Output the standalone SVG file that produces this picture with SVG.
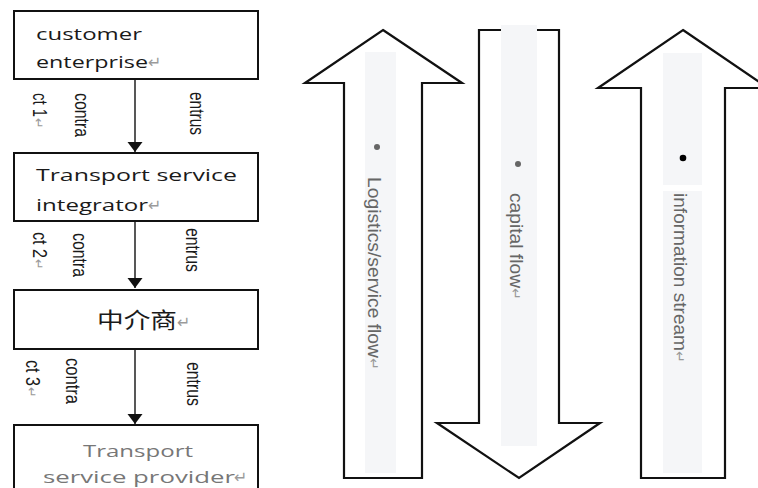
<svg xmlns="http://www.w3.org/2000/svg" width="758" height="488" viewBox="0 0 758 488">
<defs>
<style>
.box{fill:#fff;stroke:#111;stroke-width:2}
.bt{font-family:"Open Sans","Noto Sans",sans-serif;font-size:17px;fill:#1a1a1a}
.cjk{font-family:"Noto Sans CJK SC","Noto Sans CJK KR",sans-serif;font-size:22px;fill:#1a1a1a}
.lbl{font-family:"Liberation Sans","Arial",sans-serif;font-size:20px;fill:#1a1a1a}
.conn{stroke:#111;stroke-width:1.4;fill:none}
.big{fill:#fff;stroke:#111;stroke-width:2.2;stroke-linejoin:miter}
.strip{fill:#f5f6f8}
.at{font-family:"Liberation Sans","Arial",sans-serif;fill:#666}
.ret{font-family:"DejaVu Sans",sans-serif;fill:#9a9a9a}
</style>
<marker id="ah" markerUnits="userSpaceOnUse" markerWidth="16" markerHeight="16" refX="10" refY="7.5" orient="auto">
<path d="M0,0 L10,7.5 L0,15 Z" fill="#111"/>
</marker>
</defs>
<g id="connectors">
<line class="conn" x1="135" y1="79" x2="135" y2="152" marker-end="url(#ah)"/>
<line class="conn" x1="135" y1="221" x2="135" y2="288" marker-end="url(#ah)"/>
<line class="conn" x1="135" y1="349" x2="135" y2="424" marker-end="url(#ah)"/>
</g>
<g id="node-customer">
<rect class="box" x="14" y="11" width="244" height="68"/>
<text class="bt" x="36" y="40" textLength="106" lengthAdjust="spacingAndGlyphs">customer</text>
<text class="bt" x="36" y="68" textLength="112" lengthAdjust="spacingAndGlyphs">enterprise</text>
<text class="ret" x="148" y="68" font-size="16">↵</text>
</g>
<g id="node-integrator">
<rect class="box" x="14" y="153" width="244" height="68"/>
<text class="bt" x="36" y="181" textLength="201" lengthAdjust="spacingAndGlyphs">Transport  service</text>
<text class="bt" x="36" y="211" textLength="112" lengthAdjust="spacingAndGlyphs">integrator</text>
<text class="ret" x="148" y="211" font-size="16">↵</text>
</g>
<g id="node-broker">
<rect class="box" x="14" y="290" width="244" height="59"/>
<text class="cjk" x="97" y="328" textLength="80" lengthAdjust="spacingAndGlyphs">中介商</text>
<text class="ret" x="177" y="328" font-size="16">↵</text>
</g>
<g id="node-provider">
<rect class="box" x="14" y="425" width="244" height="70"/>
<text class="bt" x="83" y="457" textLength="110" lengthAdjust="spacingAndGlyphs" style="fill:#777">Transport</text>
<text class="bt" x="43" y="483" textLength="192" lengthAdjust="spacingAndGlyphs" style="fill:#777">service provider</text>
<text class="ret" x="234" y="483" font-size="16">↵</text>
</g>
<g id="labels">
<text class="lbl" transform="translate(33,93) rotate(90)" textLength="24" lengthAdjust="spacingAndGlyphs">ct 1</text>
<text class="ret" font-size="13" transform="translate(34,118) rotate(90)">↵</text>
<text class="lbl" transform="translate(75,93) rotate(90)" textLength="44" lengthAdjust="spacingAndGlyphs">contra</text>
<text class="lbl" transform="translate(190,92) rotate(90)" textLength="43" lengthAdjust="spacingAndGlyphs">entrus</text>
<text class="lbl" transform="translate(33,232) rotate(90)" textLength="26" lengthAdjust="spacingAndGlyphs">ct 2</text>
<text class="ret" font-size="13" transform="translate(34,259) rotate(90)">↵</text>
<text class="lbl" transform="translate(73,233) rotate(90)" textLength="44" lengthAdjust="spacingAndGlyphs">contra</text>
<text class="lbl" transform="translate(186,228) rotate(90)" textLength="44" lengthAdjust="spacingAndGlyphs">entrus</text>
<text class="lbl" transform="translate(26,360) rotate(90)" textLength="26" lengthAdjust="spacingAndGlyphs">ct 3</text>
<text class="ret" font-size="13" transform="translate(27,387) rotate(90)">↵</text>
<text class="lbl" transform="translate(66,358) rotate(90)" textLength="46" lengthAdjust="spacingAndGlyphs">contra</text>
<text class="lbl" transform="translate(187,362) rotate(90)" textLength="44" lengthAdjust="spacingAndGlyphs">entrus</text>
</g>
<g id="flow-logistics">
<polygon class="big" points="383,30 462,83 422,83 422,478 344,478 344,83 305,83"/>
<rect class="strip" x="365" y="52" width="31" height="421"/>
<circle cx="377" cy="147" r="3" fill="#666"/>
<text class="at" font-size="18" transform="translate(368,177) rotate(90)" textLength="181" lengthAdjust="spacingAndGlyphs">Logistics/service flow</text>
<text class="ret" font-size="14" transform="translate(369,358) rotate(90)">↵</text>
</g>
<g id="flow-capital">
<polygon class="big" points="479,30 559,30 559,423 600,423 519,478 437,423 479,423"/>
<rect class="strip" x="501" y="25" width="36" height="421"/>
<circle cx="518" cy="164" r="3" fill="#666"/>
<text class="at" font-size="18" transform="translate(510,193) rotate(90)" textLength="95" lengthAdjust="spacingAndGlyphs">capital flow</text>
<text class="ret" font-size="14" transform="translate(511,288) rotate(90)">↵</text>
</g>
<g id="flow-information">
<polygon class="big" points="683,30 768,88 725,88 725,478 641,478 641,88 598,88"/>
<rect class="strip" x="663" y="53" width="39" height="132"/>
<rect class="strip" x="663" y="191" width="39" height="282"/>
<circle cx="683" cy="158" r="3.3" fill="#000"/>
<text class="at" font-size="18" transform="translate(674,193) rotate(90)" textLength="158" lengthAdjust="spacingAndGlyphs">information stream</text>
<text class="ret" font-size="14" transform="translate(675,351) rotate(90)">↵</text>
</g>
</svg>
